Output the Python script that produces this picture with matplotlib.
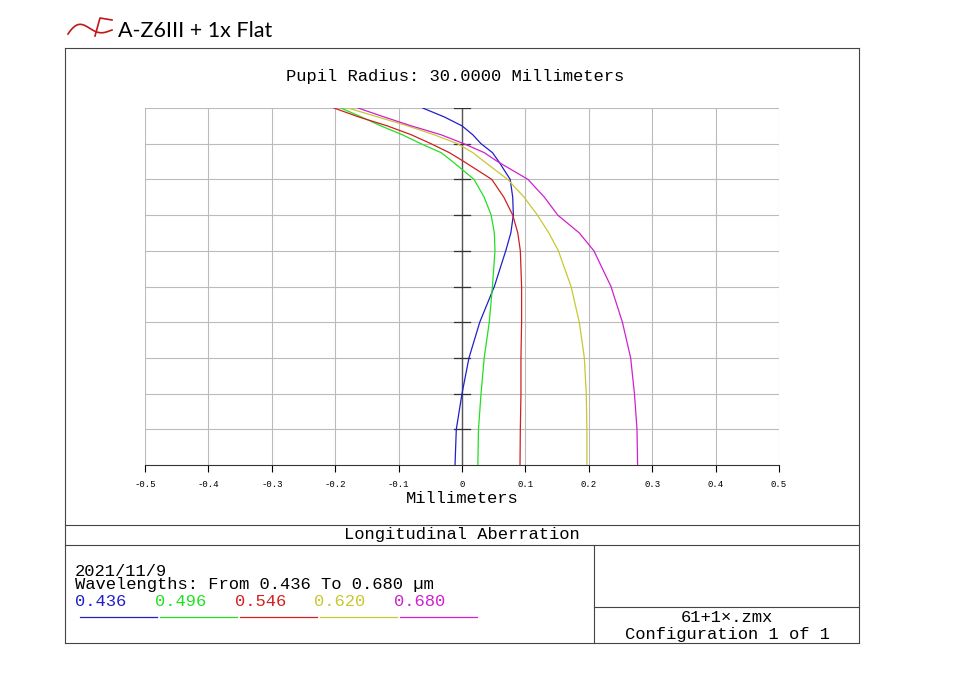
import matplotlib
matplotlib.use("Agg")
import matplotlib.pyplot as plt
from matplotlib.lines import Line2D
import numpy as np

pupil = [0.0, 0.1, 0.2, 0.3, 0.4, 0.5, 0.6, 0.65, 0.7, 0.75, 0.8, 0.85, 0.875, 0.9, 0.925, 0.95, 0.975, 1.0]
wl_labels = ["0.436", "0.496", "0.546", "0.620", "0.680"]
colors = ["#2020c8", "#20e020", "#d02020", "#c8c830", "#d020d0"]
blue = [-0.011, -0.009, 0.0, 0.011, 0.028, 0.051, 0.069, 0.077, 0.081, 0.080, 0.076, 0.058, 0.048, 0.030, 0.017, 0.0, -0.028, -0.062]
green = [0.025, 0.026, 0.030, 0.035, 0.043, 0.048, 0.052, 0.051, 0.046, 0.035, 0.019, -0.015, -0.033, -0.065, -0.094, -0.128, -0.159, -0.191]
red = [0.0915, 0.092, 0.093, 0.093, 0.094, 0.094, 0.092, 0.088, 0.080, 0.066, 0.047, 0.003, -0.020, -0.049, -0.080, -0.118, -0.163, -0.202]
yellow = [0.197, 0.197, 0.196, 0.193, 0.185, 0.172, 0.152, 0.137, 0.119, 0.098, 0.072, 0.035, 0.017, -0.007, -0.044, -0.086, -0.133, -0.180]
magenta = [0.277, 0.276, 0.272, 0.266, 0.253, 0.235, 0.208, 0.185, 0.151, 0.130, 0.104, 0.056, 0.035, 0.003, -0.033, -0.080, -0.123, -0.164]
series = [blue, green, red, yellow, magenta]
xticks = [-0.5, -0.4, -0.3, -0.2, -0.1, 0, 0.1, 0.2, 0.3, 0.4, 0.5]

W, H = 980, 693
fig = plt.figure(figsize=(9.8, 6.93), dpi=100)
mono = "Liberation Mono"
FS = 12.3

def fx(x): return x / W
def fy(y): return 1 - y / H
def hline(x0, x1, y, **kw):
    fig.add_artist(Line2D([fx(x0), fx(x1)], [fy(y), fy(y)], color="#444444", lw=0.8, **kw))
def vline(x, y0, y1, **kw):
    fig.add_artist(Line2D([fx(x), fx(x)], [fy(y0), fy(y1)], color="#444444", lw=0.8, **kw))

# outer frame
hline(65, 859, 48); hline(65, 859, 643)
vline(65, 48, 643); vline(859, 48, 643)
hline(65, 859, 525); hline(65, 859, 545)
vline(594, 545, 643); hline(594, 859, 607)

# logo swoosh (decoration)
t = np.linspace(0, 1, 60)
lxs = 68 + 44 * t
lys = 34 - 12 * np.sin(np.pi * t * 1.6) * (1 - t) - 4 * t
fig.add_artist(Line2D(lxs / W, 1 - lys / H, color="#c01818", lw=1.2))
fig.add_artist(Line2D([fx(95), fx(100), fx(112)], [fy(36), fy(18), fy(20)], color="#c01818", lw=1.2))
fig.text(fx(118), fy(31), "A-Z6III + 1x Flat", fontsize=15.5, family="Lato", va="center")

fig.text(fx(455), fy(76), "Pupil Radius: 30.0000 Millimeters", fontsize=FS, family=mono, ha="center", va="center")
fig.text(fx(462), fy(535), "Longitudinal Aberration", fontsize=FS, family=mono, ha="center", va="center")
fig.text(fx(75), fy(571), "2021/11/9", fontsize=FS, family=mono, va="center")
fig.text(fx(75), fy(585), "Wavelengths: From 0.436 To 0.680 µm", fontsize=FS, family=mono, va="center")
lx = [75, 155, 235, 314, 394]
for i, (lab, c) in enumerate(zip(wl_labels, colors)):
    fig.text(fx(lx[i]), fy(601), lab, fontsize=FS, family=mono, color=c, va="center")
    fig.add_artist(Line2D([fx(80 + 80 * i), fx(157 + 80 * i)], [fy(617), fy(617)], color=c, lw=0.9))
fig.text(fx(727), fy(618), "61+1×.zmx", fontsize=FS, family=mono, ha="center", va="center")
fig.text(fx(727), fy(634), "Configuration 1 of 1", fontsize=FS, family=mono, ha="center", va="center")

ax = fig.add_axes([fx(145), fy(465), (779 - 145) / W, (465 - 108) / H])
ax.set_xlim(-0.5, 0.5)
ax.set_ylim(0, 1)
for x in xticks:
    ax.axvline(x, color="#bbbbbb", lw=0.8, zorder=0)
for y in np.arange(0.1, 1.01, 0.1):
    ax.axhline(y, color="#bbbbbb", lw=0.8, zorder=0)
ax.axvline(0, color="#555555", lw=1.0, zorder=1)
for y in np.arange(0.1, 1.01, 0.1):
    ax.plot([-0.012, 0.012], [y, y], color="#333333", lw=0.9, zorder=1)
for s, c in zip(series, colors):
    ax.plot(s, pupil, color=c, lw=0.9, zorder=3)
for sp in ["left", "right", "top"]:
    ax.spines[sp].set_visible(False)
ax.spines["bottom"].set_color("#333333")
ax.set_yticks([])
ax.set_xticks(xticks)
ax.set_xticklabels(["-0.5", "-0.4", "-0.3", "-0.2", "-0.1", "0", "0.1", "0.2", "0.3", "0.4", "0.5"],
                   fontsize=6.5, family=mono)
ax.tick_params(axis="x", direction="out", length=5, width=0.8, pad=6)
ax.set_xlabel("Millimeters", fontsize=FS, family=mono, labelpad=1)

fig.savefig("out.png", dpi=100)
